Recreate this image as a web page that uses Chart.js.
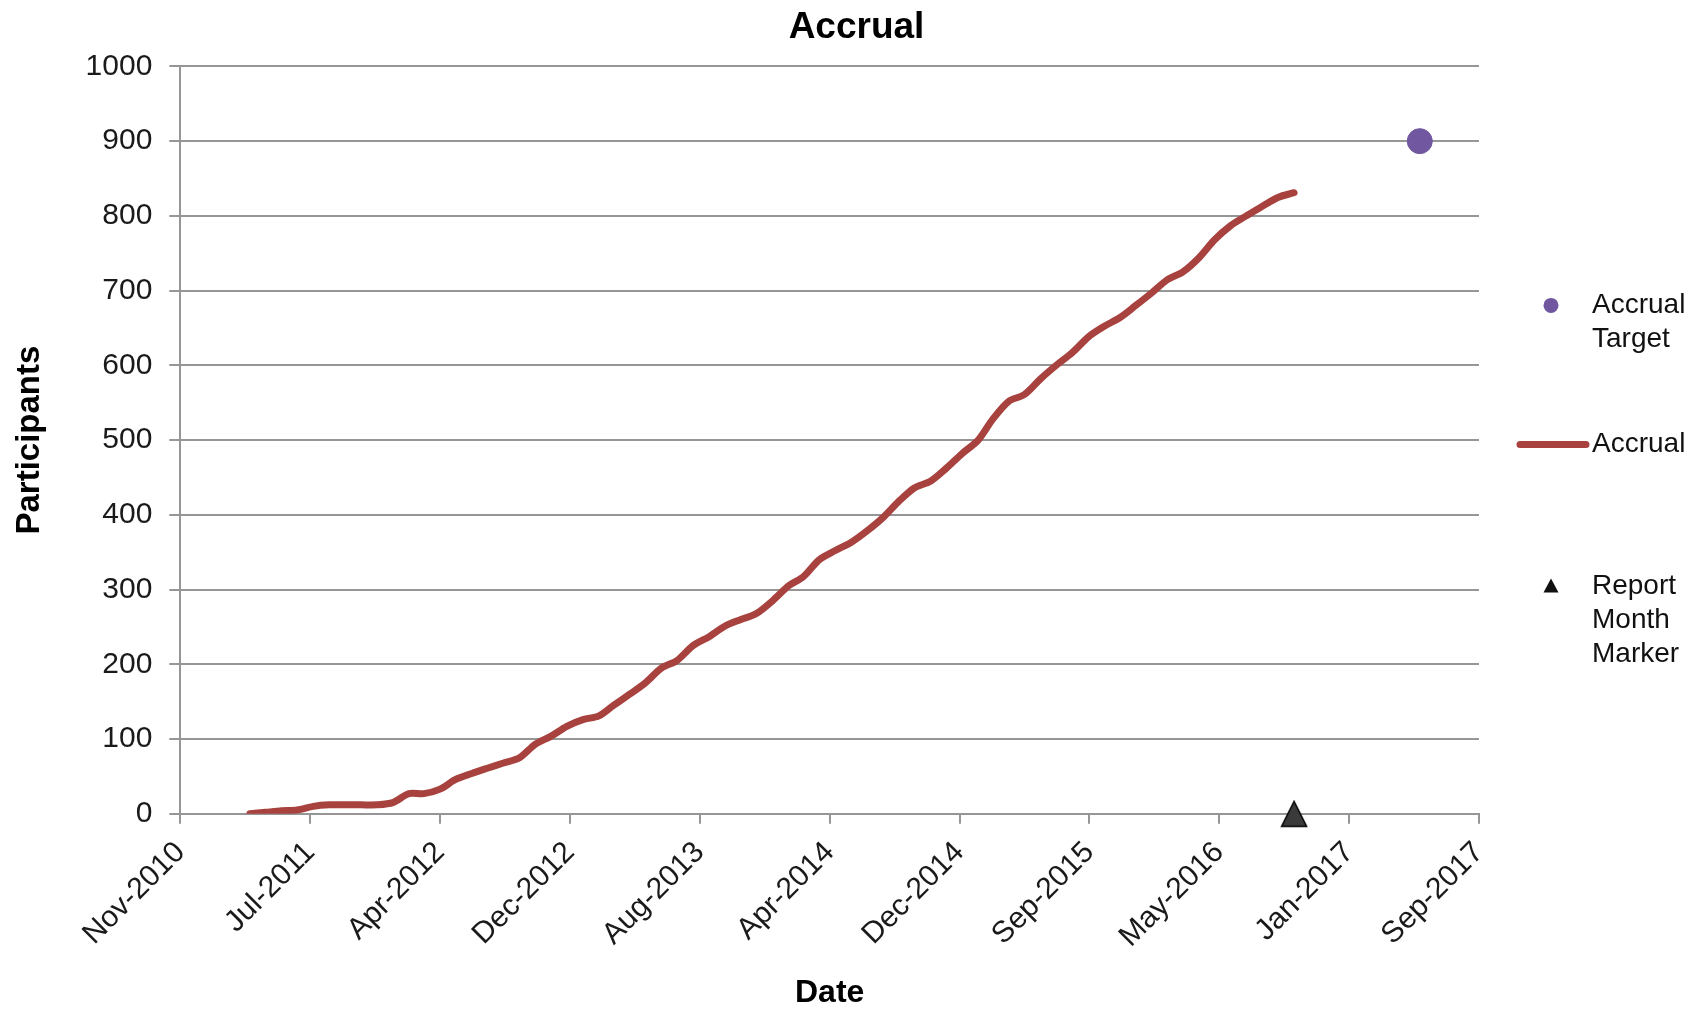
<!DOCTYPE html>
<html>
<head>
<meta charset="utf-8">
<script src="https://cdn.jsdelivr.net/npm/chart.js@4/dist/chart.umd.min.js"></script>
<style>
  html, body { margin: 0; padding: 0; background: #ffffff; }
  #wrap { width: 1703px; height: 1012px; }
</style>
</head>
<body>
<div id="wrap"><canvas id="c" width="1703" height="1012"></canvas></div>
<script>
// ---------------- data ----------------
const accrualMonths = [
  '2011-04','2011-05','2011-06','2011-07','2011-08','2011-09','2011-10','2011-11','2011-12',
  '2012-01','2012-02','2012-03','2012-04','2012-05','2012-06','2012-07','2012-08','2012-09','2012-10','2012-11','2012-12',
  '2013-01','2013-02','2013-03','2013-04','2013-05','2013-06','2013-07','2013-08','2013-09','2013-10','2013-11','2013-12',
  '2014-01','2014-02','2014-03','2014-04','2014-05','2014-06','2014-07','2014-08','2014-09','2014-10','2014-11','2014-12',
  '2015-01','2015-02','2015-03','2015-04','2015-05','2015-06','2015-07','2015-08','2015-09','2015-10','2015-11','2015-12',
  '2016-01','2016-02','2016-03','2016-04','2016-05','2016-06','2016-07','2016-08','2016-09','2016-10'
];
const accrualValues = [
  0, 2, 4, 5, 10, 12, 12, 12, 12,
  15, 27, 27, 33, 46, 54, 61, 68, 75, 93, 104, 117,
  126, 131, 145, 160, 175, 195, 205, 225, 237, 251, 260, 268,
  285, 305, 317, 340, 352, 363, 378, 396, 418, 436, 445, 462,
  482, 500, 528, 552, 561, 582, 600, 617, 638, 652, 664, 680,
  697, 715, 725, 744, 768, 787, 800, 813, 825, 831
];
const targetDates = ['2017-05-31'];
const targetValues = [900];
const reportDates = ['2016-10-01'];
const reportValues = [0];

// x axis: Excel-style date serials, first tick and step in days
const xAxisMin = 40500;   // 18-Nov-2010
const xAxisMax = 43000;   // 22-Sep-2017
const xAxisStep = 250;
const yAxisMin = 0, yAxisMax = 1000, yAxisStep = 100;
const monthNames = ['Jan','Feb','Mar','Apr','May','Jun','Jul','Aug','Sep','Oct','Nov','Dec'];

const legendTexts = [['Accrual', 'Target'], ['Accrual'], ['Report', 'Month', 'Marker']];

// ---------------- helpers ----------------
const EPOCH = Date.UTC(1899, 11, 30);
function toSerial(s) {
  const p = s.split('-').map(Number);
  return Math.round((Date.UTC(p[0], p[1] - 1, p[2] || 1) - EPOCH) / 86400000);
}
function serialLabel(v) {
  const d = new Date(EPOCH + v * 86400000);
  return monthNames[d.getUTCMonth()] + '-' + d.getUTCFullYear();
}

const RED = '#A8423F';
const PURPLE = '#7057A0';
const DARK = '#3a3a3a';
const GRID = '#969696';
const FONT = '"Liberation Sans", Arial, sans-serif';

// triangle marker image, centred on its own box so it sits centred on the point
function makeTriangle(size, fill, stroke) {
  const c = document.createElement('canvas');
  c.width = size; c.height = size;
  const g = c.getContext('2d');
  g.beginPath();
  g.moveTo(size / 2, 1.5);
  g.lineTo(size - 1.5, size - 1.5);
  g.lineTo(1.5, size - 1.5);
  g.closePath();
  g.fillStyle = fill;
  g.fill();
  g.lineWidth = 1.5;
  g.strokeStyle = stroke;
  g.stroke();
  return c;
}
const triangleImg = makeTriangle(28, DARK, '#000');

const sideLegend = {
  id: 'sideLegend',
  afterDraw(chart) {
    const ctx = chart.ctx;
    const a = chart.chartArea;
    const ds = chart.data.datasets;
    const markX = a.right + 72;
    const textX = a.right + 113;
    const lh = 34;
    const rows = [a.top + 239, a.top + 378, a.top + 520];
    ctx.save();
    ctx.font = '28px ' + FONT;
    ctx.textBaseline = 'middle';
    ctx.textAlign = 'left';
    // item 1: target dot
    ctx.beginPath();
    ctx.arc(markX, rows[0], 7.5, 0, Math.PI * 2);
    ctx.fillStyle = ds[1].backgroundColor;
    ctx.fill();
    // item 2: line
    ctx.beginPath();
    ctx.lineCap = 'round';
    ctx.lineWidth = 7;
    ctx.strokeStyle = ds[0].borderColor;
    ctx.moveTo(a.right + 41, rows[1]);
    ctx.lineTo(a.right + 107, rows[1]);
    ctx.stroke();
    // item 3: triangle
    ctx.beginPath();
    ctx.moveTo(markX, rows[2] - 8);
    ctx.lineTo(markX + 7.5, rows[2] + 6);
    ctx.lineTo(markX - 7.5, rows[2] + 6);
    ctx.closePath();
    ctx.fillStyle = '#111';
    ctx.fill();
    ctx.fillStyle = '#111';
    legendTexts.forEach((lines, i) => {
      lines.forEach((t, j) => ctx.fillText(t, textX, rows[i] + j * lh));
    });
    ctx.restore();
  }
};

new Chart(document.getElementById('c'), {
  type: 'line',
  data: {
    datasets: [
      {
        label: 'Accrual',
        data: accrualMonths.map((m, i) => ({ x: toSerial(m), y: accrualValues[i] })),
        borderColor: RED,
        backgroundColor: RED,
        borderWidth: 7,
        borderCapStyle: 'round',
        borderJoinStyle: 'round',
        pointRadius: 0,
        tension: 0.3,
        fill: false
      },
      {
        label: 'Accrual Target',
        data: targetDates.map((d, i) => ({ x: toSerial(d), y: targetValues[i] })),
        showLine: false,
        pointStyle: 'circle',
        pointRadius: 12.5,
        backgroundColor: PURPLE,
        borderColor: PURPLE,
        borderWidth: 1,
        clip: false
      },
      {
        label: 'Report Month Marker',
        data: reportDates.map((d, i) => ({ x: toSerial(d), y: reportValues[i] })),
        showLine: false,
        pointStyle: triangleImg,
        pointRadius: 14,
        backgroundColor: DARK,
        borderColor: '#000',
        clip: false
      }
    ]
  },
  options: {
    responsive: false,
    animation: false,
    devicePixelRatio: 1,
    layout: { padding: { left: 10, right: 0, top: 0, bottom: 0 } },
    plugins: {
      legend: { display: false },
      tooltip: { enabled: false },
      title: {
        display: true,
        text: 'Accrual',
        color: '#000',
        font: { family: FONT, size: 37, weight: 'bold' },
        padding: { top: 6, bottom: 16 }
      }
    },
    scales: {
      x: {
        type: 'linear',
        min: xAxisMin,
        max: xAxisMax,
        afterBuildTicks(scale) {
          const t = [];
          for (let v = xAxisMin; v <= xAxisMax; v += xAxisStep) t.push({ value: v });
          scale.ticks = t;
        },
        ticks: {
          autoSkip: false,
          maxRotation: 45,
          minRotation: 45,
          padding: 11,
          color: '#1a1a1a',
          font: { family: FONT, size: 30 },
          callback: (v) => serialLabel(v)
        },
        grid: {
          drawOnChartArea: false,
          drawTicks: true,
          tickLength: 10,
          color: GRID,
          lineWidth: 2
        },
        border: { display: true, color: GRID, width: 2 },
        title: {
          display: true,
          text: 'Date',
          color: '#000',
          font: { family: FONT, size: 32, weight: 'bold' },
          padding: { top: 8, bottom: 0 }
        }
      },
      y: {
        min: yAxisMin,
        max: yAxisMax,
        ticks: {
          stepSize: yAxisStep,
          padding: 17,
          color: '#1a1a1a',
          font: { family: FONT, size: 30 },
          callback: (v) => String(v)
        },
        grid: {
          color: GRID,
          lineWidth: 2,
          tickLength: 11
        },
        border: { display: true, color: GRID, width: 2 },
        title: {
          display: true,
          text: 'Participants',
          color: '#000',
          font: { family: FONT, size: 33, weight: 'bold' },
          padding: { top: 0, bottom: 19 }
        }
      },
      legendSpace: {
        type: 'linear',
        position: 'right',
        display: true,
        grid: { display: false, drawTicks: false },
        border: { display: false },
        ticks: { display: false },
        afterFit(scale) { scale.width = 224; }
      }
    }
  },
  plugins: [sideLegend]
});
</script>
</body>
</html>
